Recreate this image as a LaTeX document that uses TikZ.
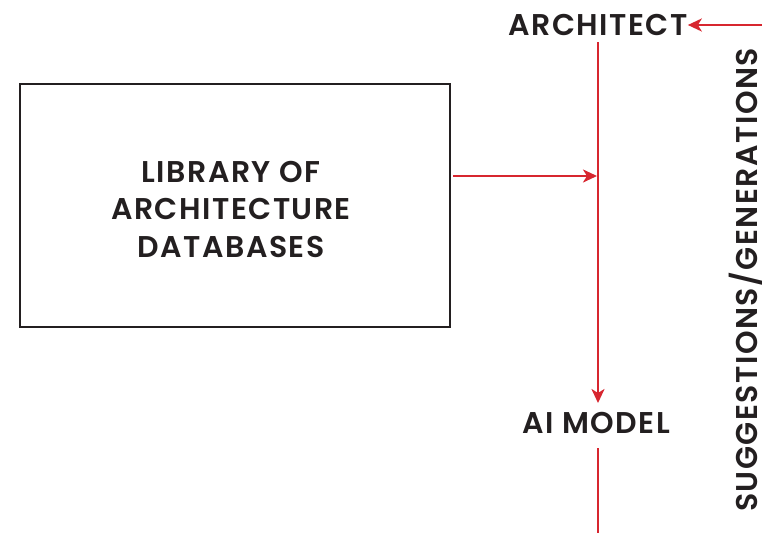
\documentclass[tikz,border=0pt]{standalone}
\usepackage{fontspec}
\setmainfont{Poppins}[UprightFont=* SemiBold, LetterSpace=5]
\usetikzlibrary{arrows.meta}
\definecolor{flowred}{HTML}{D7262F}
\definecolor{ink}{HTML}{231F20}
\begin{document}
\begin{tikzpicture}[x=1pt,y=-1pt,
  label/.style={font=\fontsize{30}{37.5}\selectfont, text=ink, inner sep=0pt, align=center},
  flow/.style={draw=flowred, line width=2.8pt, -{Stealth[length=14pt,width=13pt,inset=4pt]}},
  plainflow/.style={draw=flowred, line width=2.8pt}]
\useasboundingbox (0,0) rectangle (762,533);
\node[draw=ink, line width=2pt, minimum width=430pt, minimum height=243pt, inner sep=0pt] (lib) at (235,205.5) {};
\node[label] (libtext) at (231,209) {LIBRARY OF\\ARCHITECTURE\\DATABASES};
\node[label] (arch) at (598,25) {ARCHITECT};
\node[label] (ai) at (596,423) {AI MODEL};
\node[label, rotate=90] (sugg) at (746,280) {SUGGESTIONS/GENERATIONS};
\coordinate (topin) at (762,25);
\coordinate (join) at (597,176);
\coordinate (bottom) at (598,533);
\coordinate (archfoot) at (598,42);
\coordinate (aihead) at (598,403);
\coordinate (aifoot) at (598,448);
\draw[flow] (topin) -- (arch.east);
\draw[flow] (lib.east |- join) ++(2,0) -- (join);
\draw[flow] (archfoot) -- (aihead);
\draw[plainflow] (aifoot) -- (bottom);
\end{tikzpicture}
\end{document}
